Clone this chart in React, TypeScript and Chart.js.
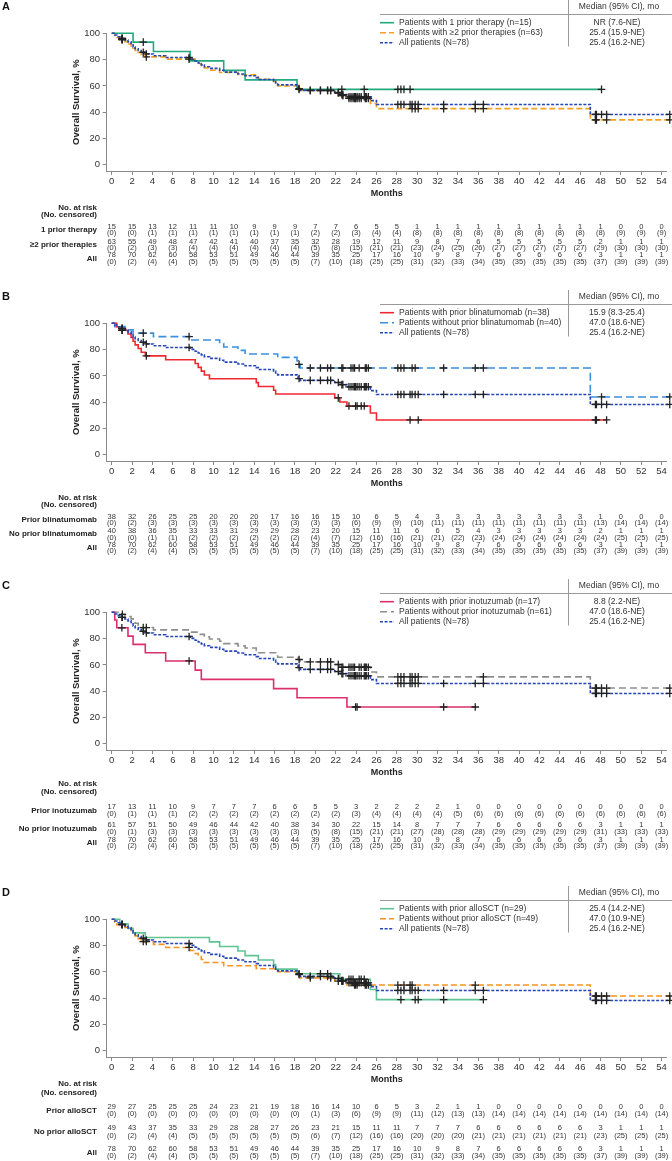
import React, { useEffect, useRef } from 'react';
import { Chart, registerables } from 'chart.js';

Chart.register(...registerables);

const FONT = '"Liberation Sans", Arial, Helvetica, sans-serif';

// ---------- axes ----------
const MONTH_TICKS = [0, 2, 4, 6, 8, 10, 12, 14, 16, 18, 20, 22, 24, 26, 28, 30, 32, 34, 36, 38, 40, 42, 44, 46, 48, 50, 52, 54];
const SURV_TICKS = [0, 20, 40, 60, 80, 100];

// ---------- All patients (N=78) ----------
const ALL_T = [0.3, 0.5, 0.8, 1.3, 1.6, 1.9, 2.1, 2.3, 2.6, 2.9, 3.3, 4.1, 5.3, 7.7, 8.2, 8.5, 8.8, 9.1, 9.6, 10.6, 11.0, 12.4, 13.1, 14.2, 14.4, 15.9, 16.1, 16.3, 18.2, 18.3, 18.5, 21.9, 22.4, 23.1, 25.4, 26.0, 47.0];
const ALL_S = [98.7, 97.4, 96.2, 94.9, 93.5, 92.2, 89.6, 88.3, 86.9, 85.6, 84.3, 82.9, 81.6, 80.2, 78.8, 77.4, 76.0, 74.6, 73.3, 71.9, 70.5, 69.1, 67.7, 66.3, 64.9, 63.6, 62.2, 60.8, 59.4, 58.0, 56.6, 55.0, 53.4, 51.7, 48.8, 45.9, 38.3];
const ALL_C = [1.0, 1.05, 3.1, 3.4, 7.6, 18.4, 19.5, 20.5, 21.2, 21.5, 22.25, 22.6, 22.7, 23.3, 23.5, 23.7, 23.85, 23.95, 24.1, 24.3, 24.5, 24.8, 24.9, 25.0, 25.2, 28.1, 28.4, 28.7, 29.3, 29.5, 29.8, 30.1, 32.6, 35.7, 36.5, 47.5, 47.6, 48.1, 48.6, 54.8];
const ALL_N = [78, 70, 62, 60, 58, 53, 51, 49, 46, 44, 39, 35, 25, 17, 16, 10, 9, 8, 7, 6, 6, 6, 6, 6, 3, 1, 1, 1];
const ALL_CN = [0, 2, 4, 4, 5, 5, 5, 5, 5, 5, 7, 10, 18, 25, 25, 31, 32, 33, 34, 35, 35, 35, 35, 35, 37, 39, 39, 39];

// ---------- Panel A ----------
const A1_T = [2.1, 4.1, 7.7, 11.0, 13.1, 18.2];
const A1_S = [93.3, 86.2, 79.0, 71.8, 64.6, 57.4];
const A1_C = [3.1, 18.4, 22.6, 24.8, 28.1, 28.4, 28.7, 29.3, 48.1];
const A2_T = [0.3, 0.5, 0.8, 1.3, 1.6, 1.9, 2.1, 2.3, 2.6, 2.9, 3.3, 5.3, 8.2, 8.5, 8.8, 9.1, 9.6, 10.6, 12.4, 14.2, 14.4, 15.9, 16.1, 16.3, 18.3, 18.5, 21.9, 22.4, 23.1, 25.4, 26.0, 47.0];
const A2_S = [98.4, 96.8, 95.2, 93.6, 91.9, 90.3, 88.7, 87.0, 85.4, 83.7, 82.1, 80.4, 78.7, 77.0, 75.3, 73.6, 71.9, 70.2, 68.5, 66.8, 65.1, 63.4, 61.7, 59.9, 58.2, 56.5, 54.6, 52.6, 50.5, 46.6, 42.7, 34.2];
const A2_C = [1.0, 1.05, 3.4, 7.6, 19.5, 20.5, 21.2, 21.5, 22.25, 22.7, 23.3, 23.5, 23.7, 23.85, 23.95, 24.1, 24.3, 24.5, 24.9, 25.0, 25.2, 29.5, 29.8, 30.1, 32.6, 35.7, 36.5, 47.5, 47.6, 48.6, 54.8];
const A1_N = [15, 15, 13, 12, 11, 11, 10, 9, 9, 9, 7, 7, 6, 5, 5, 1, 1, 1, 1, 1, 1, 1, 1, 1, 1, 0, 0, 0];
const A1_CN = [0, 0, 1, 1, 1, 1, 1, 1, 1, 1, 2, 2, 3, 4, 4, 8, 8, 8, 8, 8, 8, 8, 8, 8, 8, 9, 9, 9];
const A2_N = [63, 55, 49, 48, 47, 42, 41, 40, 37, 35, 32, 28, 19, 12, 11, 9, 8, 7, 6, 5, 5, 5, 5, 5, 2, 1, 1, 1];
const A2_CN = [0, 2, 3, 3, 4, 4, 4, 4, 4, 4, 5, 8, 15, 21, 21, 23, 24, 25, 26, 27, 27, 27, 27, 27, 29, 30, 30, 30];

// ---------- Panel B ----------
const B1_T = [0.5, 0.8, 1.6, 1.9, 2.1, 2.3, 2.6, 2.9, 3.3, 5.3, 8.2, 8.5, 8.8, 9.1, 9.6, 14.2, 14.4, 15.9, 16.1, 21.9, 22.4, 23.1, 25.4, 26.0];
const B1_S = [97.4, 94.7, 91.9, 89.2, 86.4, 83.6, 80.8, 78.0, 75.2, 72.3, 69.4, 66.5, 63.6, 60.7, 57.8, 54.9, 52.0, 49.1, 46.2, 43.3, 40.2, 37.1, 31.8, 26.5];
const B1_C = [1.0, 1.05, 3.4, 22.25, 23.3, 23.95, 24.1, 24.5, 24.8, 29.3, 30.1, 47.5, 47.6, 48.6];
const B2_T = [0.3, 1.3, 2.1, 4.1, 7.7, 10.6, 11.0, 12.4, 13.1, 16.3, 18.2, 18.3, 18.5, 47.0];
const B2_S = [97.5, 95.0, 92.5, 89.9, 87.3, 84.6, 82.0, 79.4, 76.7, 74.1, 71.4, 68.8, 66.0, 44.0];
const B2_C = [3.1, 7.6, 18.4, 19.5, 20.5, 21.2, 21.5, 22.6, 22.7, 23.5, 23.7, 23.85, 24.3, 24.9, 25.0, 25.2, 28.1, 28.4, 28.7, 29.5, 29.8, 32.6, 35.7, 36.5, 48.1, 54.8];
const B1_N = [38, 32, 26, 25, 25, 20, 20, 20, 17, 16, 16, 15, 10, 6, 5, 4, 3, 3, 3, 3, 3, 3, 3, 3, 1, 0, 0, 0];
const B1_CN = [0, 2, 3, 3, 3, 3, 3, 3, 3, 3, 3, 3, 6, 9, 9, 10, 11, 11, 11, 11, 11, 11, 11, 11, 13, 14, 14, 14];
const B2_N = [40, 38, 36, 35, 33, 33, 31, 29, 29, 28, 23, 20, 15, 11, 11, 6, 6, 5, 4, 3, 3, 3, 3, 3, 2, 1, 1, 1];
const B2_CN = [0, 0, 1, 1, 2, 2, 2, 2, 2, 2, 4, 7, 12, 16, 16, 21, 21, 22, 23, 24, 24, 24, 24, 24, 24, 25, 25, 25];

// ---------- Panel C ----------
const C1_T = [0.3, 0.5, 1.6, 2.1, 3.3, 5.3, 8.2, 8.8, 15.9, 18.2, 23.1];
const C1_S = [94.1, 88.2, 81.9, 75.6, 69.3, 63.0, 56.0, 49.0, 42.0, 35.0, 28.0];
const C1_C = [1.0, 7.6, 23.95, 24.1, 32.6, 35.7];
const C2_T = [0.8, 1.3, 1.9, 2.1, 2.3, 2.6, 2.9, 4.1, 7.7, 8.5, 9.1, 9.6, 10.6, 11.0, 12.4, 13.1, 14.2, 14.4, 16.1, 16.3, 18.3, 18.5, 21.9, 22.4, 25.4, 26.0, 47.0];
const C2_S = [98.4, 96.7, 95.0, 93.4, 91.7, 90.0, 88.4, 86.6, 84.9, 83.2, 81.4, 79.7, 78.0, 76.2, 74.5, 72.8, 71.0, 69.3, 67.6, 65.8, 64.1, 62.3, 60.3, 58.2, 54.6, 50.9, 42.4];
const C2_C = [1.05, 3.1, 3.4, 18.4, 19.5, 20.5, 21.2, 21.5, 22.25, 22.6, 22.7, 23.3, 23.5, 23.7, 23.85, 24.3, 24.5, 24.8, 24.9, 25.0, 25.2, 28.1, 28.4, 28.7, 29.3, 29.5, 29.8, 30.1, 36.5, 47.5, 47.6, 48.1, 48.6, 54.8];
const C1_N = [17, 13, 11, 10, 9, 7, 7, 7, 6, 6, 5, 5, 3, 2, 2, 2, 2, 1, 0, 0, 0, 0, 0, 0, 0, 0, 0, 0];
const C1_CN = [0, 1, 1, 1, 2, 2, 2, 2, 2, 2, 2, 2, 3, 4, 4, 4, 4, 5, 6, 6, 6, 6, 6, 6, 6, 6, 6, 6];
const C2_N = [61, 57, 51, 50, 49, 46, 44, 42, 40, 38, 34, 30, 22, 15, 14, 8, 7, 7, 7, 6, 6, 6, 6, 6, 3, 1, 1, 1];
const C2_CN = [0, 1, 3, 3, 3, 3, 3, 3, 3, 3, 5, 8, 15, 21, 21, 27, 28, 28, 28, 29, 29, 29, 29, 29, 31, 33, 33, 33];

// ---------- Panel D ----------
const D1_T = [0.8, 1.6, 2.1, 3.3, 9.6, 10.6, 12.4, 13.1, 14.4, 15.9, 16.1, 18.2, 22.4, 25.4, 26.0];
const D1_S = [96.6, 93.1, 89.7, 86.2, 82.8, 79.3, 75.9, 72.4, 69.0, 65.5, 62.1, 58.6, 54.4, 46.6, 38.9];
const D1_C = [18.4, 20.5, 21.2, 23.3, 23.5, 23.7, 24.3, 24.5, 24.8, 28.4, 29.8, 30.1, 32.6, 36.5];
const D2_T = [0.3, 0.5, 1.3, 1.9, 2.1, 2.3, 2.6, 2.9, 4.1, 5.3, 7.7, 8.2, 8.5, 8.8, 9.1, 11.0, 14.2, 16.3, 18.3, 18.5, 21.9, 23.1, 47.0];
const D2_S = [98.0, 95.9, 93.8, 91.6, 89.5, 87.4, 85.3, 83.1, 80.9, 78.6, 76.3, 74.0, 71.7, 69.4, 67.1, 64.7, 62.4, 60.1, 57.8, 55.5, 53.0, 50.0, 41.7];
const D2_C = [1.0, 1.05, 3.1, 3.4, 7.6, 19.5, 21.5, 22.25, 22.6, 22.7, 23.85, 23.95, 24.1, 24.9, 25.0, 25.2, 28.1, 28.7, 29.3, 29.5, 35.7, 47.5, 47.6, 48.1, 48.6, 54.8];
const D1_N = [29, 27, 25, 25, 25, 24, 23, 21, 19, 18, 16, 14, 10, 6, 5, 3, 2, 1, 1, 0, 0, 0, 0, 0, 0, 0, 0, 0];
const D1_CN = [0, 0, 0, 0, 0, 0, 0, 0, 0, 0, 1, 3, 6, 9, 9, 11, 12, 13, 13, 14, 14, 14, 14, 14, 14, 14, 14, 14];
const D2_N = [49, 43, 37, 35, 33, 29, 28, 28, 27, 26, 23, 21, 15, 11, 11, 7, 7, 7, 6, 6, 6, 6, 6, 6, 3, 1, 1, 1];
const D2_CN = [0, 2, 4, 4, 5, 5, 5, 5, 5, 5, 6, 7, 12, 16, 16, 20, 20, 20, 21, 21, 21, 21, 21, 21, 23, 25, 25, 25];

// ---------- styles ----------
const ALL_STYLE = { color: '#2646b8', dash: [3, 1.6], width: 1.6 };
const ALL_LABEL = 'All patients (N=78)';
const ALL_MEDIAN = '25.4 (16.2-NE)';

type Series = { label: string; median: string; color: string; dash: number[]; width: number; T: number[]; S: number[]; C: number[] };
type RiskRow = { label: string; n: number[]; c: number[] };
type PanelCfg = { letter: string; top: number; h: number; series: Series[]; risk: RiskRow[]; riskHdr: number[]; riskRows: number[]; censGap: number };

const allSeries: Series = { label: ALL_LABEL, median: ALL_MEDIAN, ...ALL_STYLE, T: ALL_T, S: ALL_S, C: ALL_C };

// riskRows = vertical centre of each (number, censored) pair
const PANELS: PanelCfg[] = [
  {
    letter: 'A', top: 0, h: 290,
    series: [
      { label: 'Patients with 1 prior therapy (n=15)', median: 'NR (7.6-NE)', color: '#22a97d', dash: [], width: 1.6, T: A1_T, S: A1_S, C: A1_C },
      { label: 'Patients with \u22652 prior therapies (n=63)', median: '25.4 (15.9-NE)', color: '#f5a21f', dash: [6, 3], width: 1.6, T: A2_T, S: A2_S, C: A2_C },
      allSeries,
    ],
    risk: [
      { label: '1 prior therapy', n: A1_N, c: A1_CN },
      { label: '\u22652 prior therapies', n: A2_N, c: A2_CN },
      { label: 'All', n: ALL_N, c: ALL_CN },
    ],
    riskHdr: [207.5, 215], riskRows: [229.8, 244.8, 258.5], censGap: 6.5,
  },
  {
    letter: 'B', top: 290, h: 289,
    series: [
      { label: 'Patients with prior blinatumomab (n=38)', median: '15.9 (8.3-25.4)', color: '#ee2a30', dash: [], width: 1.6, T: B1_T, S: B1_S, C: B1_C },
      { label: 'Patients without prior blinatumomab (n=40)', median: '47.0 (18.6-NE)', color: '#3b8fdf', dash: [8, 4], width: 1.6, T: B2_T, S: B2_S, C: B2_C },
      allSeries,
    ],
    risk: [
      { label: 'Prior blinatumomab', n: B1_N, c: B1_CN },
      { label: 'No prior blinatumomab', n: B2_N, c: B2_CN },
      { label: 'All', n: ALL_N, c: ALL_CN },
    ],
    riskHdr: [207.5, 215], riskRows: [229.8, 244.2, 257.8], censGap: 6.5,
  },
  {
    letter: 'C', top: 579, h: 307,
    series: [
      { label: 'Patients with prior inotuzumab (n=17)', median: '8.8 (2.2-NE)', color: '#dc2f6c', dash: [], width: 1.6, T: C1_T, S: C1_S, C: C1_C },
      { label: 'Patients without prior inotuzumab (n=61)', median: '47.0 (18.6-NE)', color: '#8e8e8e', dash: [7, 4], width: 1.6, T: C2_T, S: C2_S, C: C2_C },
      allSeries,
    ],
    risk: [
      { label: 'Prior inotuzumab', n: C1_N, c: C1_CN },
      { label: 'No prior inotuzumab', n: C2_N, c: C2_CN },
      { label: 'All', n: ALL_N, c: ALL_CN },
    ],
    riskHdr: [205, 212.5], riskRows: [231.3, 249.5, 264], censGap: 6.5,
  },
  {
    letter: 'D', top: 886, h: 275,
    series: [
      { label: 'Patients with prior alloSCT (n=29)', median: '25.4 (14.2-NE)', color: '#5ec495', dash: [], width: 1.6, T: D1_T, S: D1_S, C: D1_C },
      { label: 'Patients without prior alloSCT (n=49)', median: '47.0 (10.9-NE)', color: '#f7931e', dash: [6, 3], width: 1.6, T: D2_T, S: D2_S, C: D2_C },
      allSeries,
    ],
    risk: [
      { label: 'Prior alloSCT', n: D1_N, c: D1_CN },
      { label: 'No prior alloSCT', n: D2_N, c: D2_CN },
      { label: 'All', n: ALL_N, c: ALL_CN },
    ],
    riskHdr: [198, 206.5], riskRows: [224.5, 246, 266.5], censGap: 7.5,
  },
];

// ---------- helpers ----------
function stepPoints(T: number[], S: number[], C: number[]) {
  const pts = [{ x: 0, y: 100 }];
  T.forEach((t, i) => pts.push({ x: t, y: S[i] }));
  const end = Math.max(T[T.length - 1], ...C);
  pts.push({ x: end, y: S[S.length - 1] });
  return pts;
}
function survAt(T: number[], S: number[], t: number) {
  let s = 100;
  for (let i = 0; i < T.length; i++) if (T[i] <= t) s = S[i];
  return s;
}

const AXIS = '#8a8a8a';
const TXT = '#333';

function makeDecor(cfg: PanelCfg) {
  return {
    id: 'decor' + cfg.letter,
    afterDraw(chart: any) {
      const ctx: CanvasRenderingContext2D = chart.ctx;
      const xs = chart.scales.x;
      ctx.save();
      // panel letter
      ctx.fillStyle = '#111';
      ctx.font = `bold 11px ${FONT}`;
      ctx.textAlign = 'left';
      ctx.textBaseline = 'middle';
      ctx.fillText(cfg.letter, 2, 7);

      // legend table
      ctx.strokeStyle = '#9a9a9a';
      ctx.lineWidth = 1;
      ctx.setLineDash([]);
      ctx.beginPath();
      ctx.moveTo(380, 14.5);
      ctx.lineTo(672, 14.5);
      ctx.moveTo(568.5, 0);
      ctx.lineTo(568.5, 46.5);
      ctx.stroke();
      ctx.fillStyle = TXT;
      ctx.font = `8.5px ${FONT}`;
      ctx.textAlign = 'center';
      ctx.fillText('Median (95% CI), mo', 619, 7);
      cfg.series.forEach((s, i) => {
        const y = 22.7 + i * 10;
        ctx.strokeStyle = s.color;
        ctx.lineWidth = s.width;
        ctx.setLineDash(s.dash);
        ctx.beginPath();
        ctx.moveTo(380, y);
        ctx.lineTo(394, y);
        ctx.stroke();
        ctx.setLineDash([]);
        ctx.fillStyle = TXT;
        ctx.textAlign = 'left';
        ctx.fillText(s.label, 399, y);
        ctx.textAlign = 'center';
        ctx.fillText(s.median, 617, y);
      });

      // risk table
      ctx.fillStyle = '#222';
      ctx.font = `bold 8px ${FONT}`;
      ctx.textAlign = 'right';
      ctx.fillText('No. at risk', 97, cfg.riskHdr[0]);
      ctx.fillText('(No. censored)', 97, cfg.riskHdr[1]);
      cfg.risk.forEach((row, r) => {
        const yc = cfg.riskRows[r];
        const y1 = yc - cfg.censGap / 2;
        const y2 = yc + cfg.censGap / 2;
        ctx.fillStyle = '#222';
        ctx.font = `bold 8px ${FONT}`;
        ctx.textAlign = 'right';
        ctx.fillText(row.label, 97, yc);
        ctx.fillStyle = TXT;
        ctx.font = `7.5px ${FONT}`;
        ctx.textAlign = 'center';
        MONTH_TICKS.forEach((m, k) => {
          const x = xs.getPixelForValue(m);
          ctx.fillText(String(row.n[k]), x, y1);
          ctx.fillText(`(${row.c[k]})`, x, y2);
        });
      });
      ctx.restore();
    },
  };
}

function buildConfig(cfg: PanelCfg): any {
  const lineSets = cfg.series.map((s, i) => ({
    type: 'line',
    data: stepPoints(s.T, s.S, s.C),
    borderColor: s.color,
    borderWidth: s.width,
    borderDash: s.dash,
    stepped: true,
    pointRadius: 0,
    fill: false,
    tension: 0,
    clip: 8,
    order: i === 2 ? 2 : 3 + i,
  }));
  const censSets = cfg.series.map((s) => ({
    type: 'line',
    data: s.C.map((t) => ({ x: t, y: survAt(s.T, s.S, t) })),
    showLine: false,
    pointStyle: 'cross',
    pointRadius: 3.8,
    pointBorderColor: '#222',
    pointBorderWidth: 1.3,
    pointBackgroundColor: '#222',
    clip: 8,
    order: 0,
  }));
  const xHeight = 28;
  return {
    type: 'line',
    data: { datasets: [...lineSets, ...censSets] },
    options: {
      animation: false,
      responsive: false,
      maintainAspectRatio: false,
      devicePixelRatio: 1,
      events: [],
      layout: { padding: { top: 33.3, left: 0, right: 5.3, bottom: cfg.h - 171 - xHeight } },
      scales: {
        x: {
          type: 'linear',
          min: -0.5,
          max: 54.5,
          afterBuildTicks: (ax: any) => { ax.ticks = MONTH_TICKS.map((v) => ({ value: v })); },
          afterFit: (ax: any) => { ax.height = xHeight; },
          ticks: { font: { family: FONT, size: 9.5 }, color: TXT, padding: 1, maxRotation: 0, autoSkip: false },
          grid: { display: true, drawOnChartArea: false, drawTicks: true, tickLength: 4, color: AXIS, lineWidth: 1 },
          border: { display: true, color: AXIS, width: 1 },
          title: { display: true, text: 'Months', font: { family: FONT, size: 9, weight: 'bold' }, color: '#222', padding: 0 },
        },
        y: {
          type: 'linear',
          min: -4.7,
          max: 100,
          afterBuildTicks: (ax: any) => { ax.ticks = SURV_TICKS.map((v) => ({ value: v })); },
          afterFit: (ax: any) => { ax.width = 106.6; },
          ticks: { font: { family: FONT, size: 9.5 }, color: TXT, padding: 2.5 },
          grid: { display: true, drawOnChartArea: false, drawTicks: true, tickLength: 4, color: AXIS, lineWidth: 1 },
          border: { display: true, color: AXIS, width: 1 },
          title: { display: true, text: 'Overall Survival, %', font: { family: FONT, size: 9.5, weight: 'bold' }, color: '#222', padding: { top: 71, bottom: 0 } },
        },
      },
      plugins: { legend: { display: false }, tooltip: { enabled: false }, title: { display: false } },
    },
    plugins: [makeDecor(cfg)],
  };
}

function Panel({ cfg }: { cfg: PanelCfg }) {
  const ref = useRef<HTMLCanvasElement>(null);
  useEffect(() => {
    const chart = new Chart(ref.current as HTMLCanvasElement, buildConfig(cfg));
    return () => chart.destroy();
  }, [cfg]);
  return (
    <canvas
      ref={ref}
      width={672}
      height={cfg.h}
      style={{ position: 'absolute', left: 0, top: cfg.top, width: 672, height: cfg.h, display: 'block' }}
    />
  );
}

export default function App() {
  useEffect(() => {
    document.body.style.margin = '0';
  }, []);
  return (
    <div style={{ position: 'absolute', left: 0, top: 0, width: 672, height: 1161, background: '#fff', overflow: 'hidden' }}>
      {PANELS.map((p) => (
        <Panel key={p.letter} cfg={p} />
      ))}
    </div>
  );
}
